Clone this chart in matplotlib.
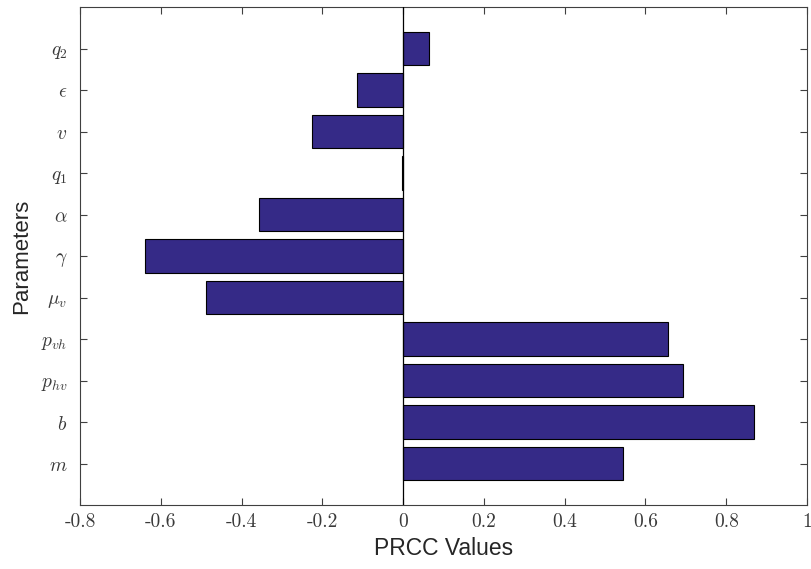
import matplotlib
matplotlib.use("Agg")
import matplotlib.pyplot as plt

params = [r"$m$", r"$b$", r"$p_{hv}$", r"$p_{vh}$", r"$\mu_v$", r"$\gamma$",
          r"$\alpha$", r"$q_1$", r"$v$", r"$\epsilon$", r"$q_2$"]
prcc = [0.544, 0.869, 0.693, 0.657, -0.488, -0.640, -0.357, -0.003, -0.225, -0.115, 0.065]
xticks = [-0.8, -0.6, -0.4, -0.2, 0, 0.2, 0.4, 0.6, 0.8, 1]
xticklabels = ["-0.8", "-0.6", "-0.4", "-0.2", "0", "0.2", "0.4", "0.6", "0.8", "1"]

plt.rcParams['mathtext.fontset'] = 'cm'
plt.rcParams['axes.unicode_minus'] = False

fig = plt.figure(figsize=(8.11, 5.69), dpi=100)
ax = fig.add_axes([80/811, 1 - 505/569, (807-80)/811, (505-7)/569])

pos = list(range(1, len(params) + 1))
ax.barh(pos, prcc, height=0.8, color="#352a87", edgecolor="black", linewidth=0.8, zorder=2)
ax.axvline(0, color="black", linewidth=0.9, zorder=3)

ax.set_xlim(-0.8, 1)
ax.set_ylim(0, 12)
ax.set_xticks(xticks)
ax.set_xticklabels(xticklabels)
ax.set_yticks(pos)
ax.set_yticklabels(params)

ax.tick_params(axis="both", direction="in", top=True, right=True, length=5,
               width=0.8, colors="#404040", labelcolor="#3a3a3a")
ax.tick_params(axis="y", labelsize=14, pad=9)
ax.tick_params(axis="x", labelsize=14, pad=6)
for lbl in ax.get_xticklabels():
    lbl.set_fontfamily(['cmr10', 'DejaVu Serif'])

for sp in ax.spines.values():
    sp.set_color("#404040")
    sp.set_linewidth(0.8)

ax.set_xlabel("PRCC Values", fontfamily="Liberation Sans", fontsize=16.5, color="#262626", labelpad=4)
ax.set_ylabel("Parameters", fontfamily="Liberation Sans", fontsize=16, color="#262626", labelpad=6)

fig.savefig("out.png", dpi=100)
